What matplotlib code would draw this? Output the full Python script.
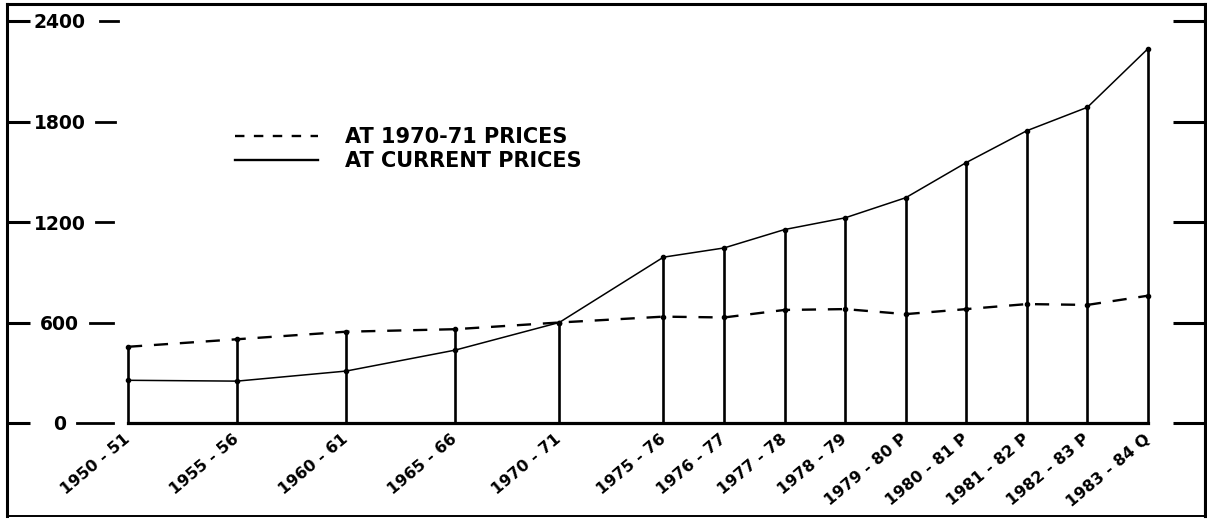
import numpy as np
import matplotlib
matplotlib.use("Agg")
import matplotlib.pyplot as plt
from matplotlib.lines import Line2D

# ---------------- data ----------------
years = ["1950 - 51", "1955 - 56", "1960 - 61", "1965 - 66", "1970 - 71",
         "1975 - 76", "1976 - 77", "1977 - 78", "1978 - 79", "1979 - 80 P",
         "1980 - 81 P", "1981 - 82 P", "1982 - 83 P", "1983 - 84 Q"]
current_prices = [255, 250, 310, 435, 600, 990, 1045, 1155, 1225, 1345,
                  1555, 1745, 1885, 2235]
constant_prices = [455, 500, 545, 560, 600, 635, 630, 675, 680, 650,
                   680, 710, 705, 760]
y_ticks = [0, 600, 1200, 1800, 2400]
legend_labels = ["AT 1970-71 PRICES", "AT CURRENT PRICES"]

# ---------------- layout ----------------
# 5-yearly categories are drawn wider apart than the yearly ones
gaps = [1.8, 1.8, 1.8, 1.72, 1.72] + [1.0] * (len(years) - 6)
x_pos = np.concatenate([[0.0], np.cumsum(gaps)])

W, H = 1207, 519
fig = plt.figure(figsize=(W / 100, H / 100), dpi=100)
plt.rcParams['font.family'] = ['DejaVu Sans']

# axes = the outer frame (pixels)
fl, fr, ft, fb = 7, 1205, 4, 516
ax = fig.add_axes([fl / W, (H - fb) / H, (fr - fl) / W, (fb - ft) / H])
axw, axh = fr - fl, fb - ft

# x mapping: first category at pixel 128, last at 1148
px_first, px_last = 128, 1148
ppx = (px_last - px_first) / (x_pos[-1] - x_pos[0])
ax.set_xlim(x_pos[0] - (px_first - fl) / ppx, x_pos[0] + (fr - px_first) / ppx)
# y mapping: 0 at pixel 423, 2400 at pixel ~21
py0, py2400 = 423, 21
ppy = (py0 - py2400) / 2400
ax.set_ylim(-(fb - py0) / ppy, (py0 - ft) / ppy)

col = "black"
# vertical drop lines
tops = np.maximum(current_prices, constant_prices)
ax.vlines(x_pos, 0, tops, color=col, lw=1.9, zorder=3)

# series
ax.plot(x_pos, constant_prices, color=col, lw=1.7, dashes=(6, 5),
        marker='o', ms=3, zorder=4)
ax.plot(x_pos, current_prices, color=col, lw=1.1,
        marker='o', ms=3, zorder=4)

# spines: left/top/right = frame, bottom = baseline at y=0
for s in ['left', 'top', 'right']:
    ax.spines[s].set_linewidth(2.2)
    ax.spines[s].set_color(col)
ax.spines['bottom'].set_position(('data', 0))
ax.spines['bottom'].set_bounds(x_pos[0], x_pos[-1])
ax.spines['bottom'].set_linewidth(2.3)

# bottom frame line
fig.add_artist(Line2D([fl / W, fr / W], [(H - fb) / H] * 2,
                      transform=fig.transFigure, color=col, lw=1.4))

# x ticks
ax.set_xticks(x_pos)
ax.set_xticklabels(years, rotation=40, ha='right', va='center',
                   rotation_mode='anchor', fontsize=11.5, fontweight='bold')
ax.tick_params(axis='x', length=0, pad=10)

# y ticks (left): labels placed inside the frame
ax.set_yticks(y_ticks)
ax.set_yticklabels([str(v) for v in y_ticks], fontsize=13.5, fontweight='bold')
ax.tick_params(axis='y', direction='in', length=16.5, width=2.2, pad=-38)
for lab in ax.get_yticklabels():
    lab.set_ha('center')

# trailing dashes after left tick labels
dash_px = {0: (77, 113), 600: (90, 113), 1200: (96, 113), 1800: (96, 115), 2400: (100, 118)}
for v in y_ticks:
    a, b = dash_px[v]
    ax.plot([(a - fl) / axw, (b - fl) / axw], [v, v], color=col, lw=2.0,
            transform=ax.get_yaxis_transform(), clip_on=False)

# right ticks
sec = ax.secondary_yaxis('right')
sec.set_yticks(y_ticks)
sec.tick_params(direction='in', length=23, width=2.2, labelright=False)
sec.spines['right'].set_linewidth(2.2)

# legend
handles = [Line2D([], [], color=col, lw=1.7, dashes=(4, 4)),
           Line2D([], [], color=col, lw=1.7)]
leg = ax.legend(handles, legend_labels, loc='upper left',
                bbox_to_anchor=(235 / W, 1 - 127 / H), bbox_transform=fig.transFigure,
                frameon=False, prop={'size': 15, 'weight': 'bold'},
                handlelength=4.0, handletextpad=1.3, labelspacing=0.2,
                borderpad=0, borderaxespad=0)

fig.savefig("out.png", dpi=100)
